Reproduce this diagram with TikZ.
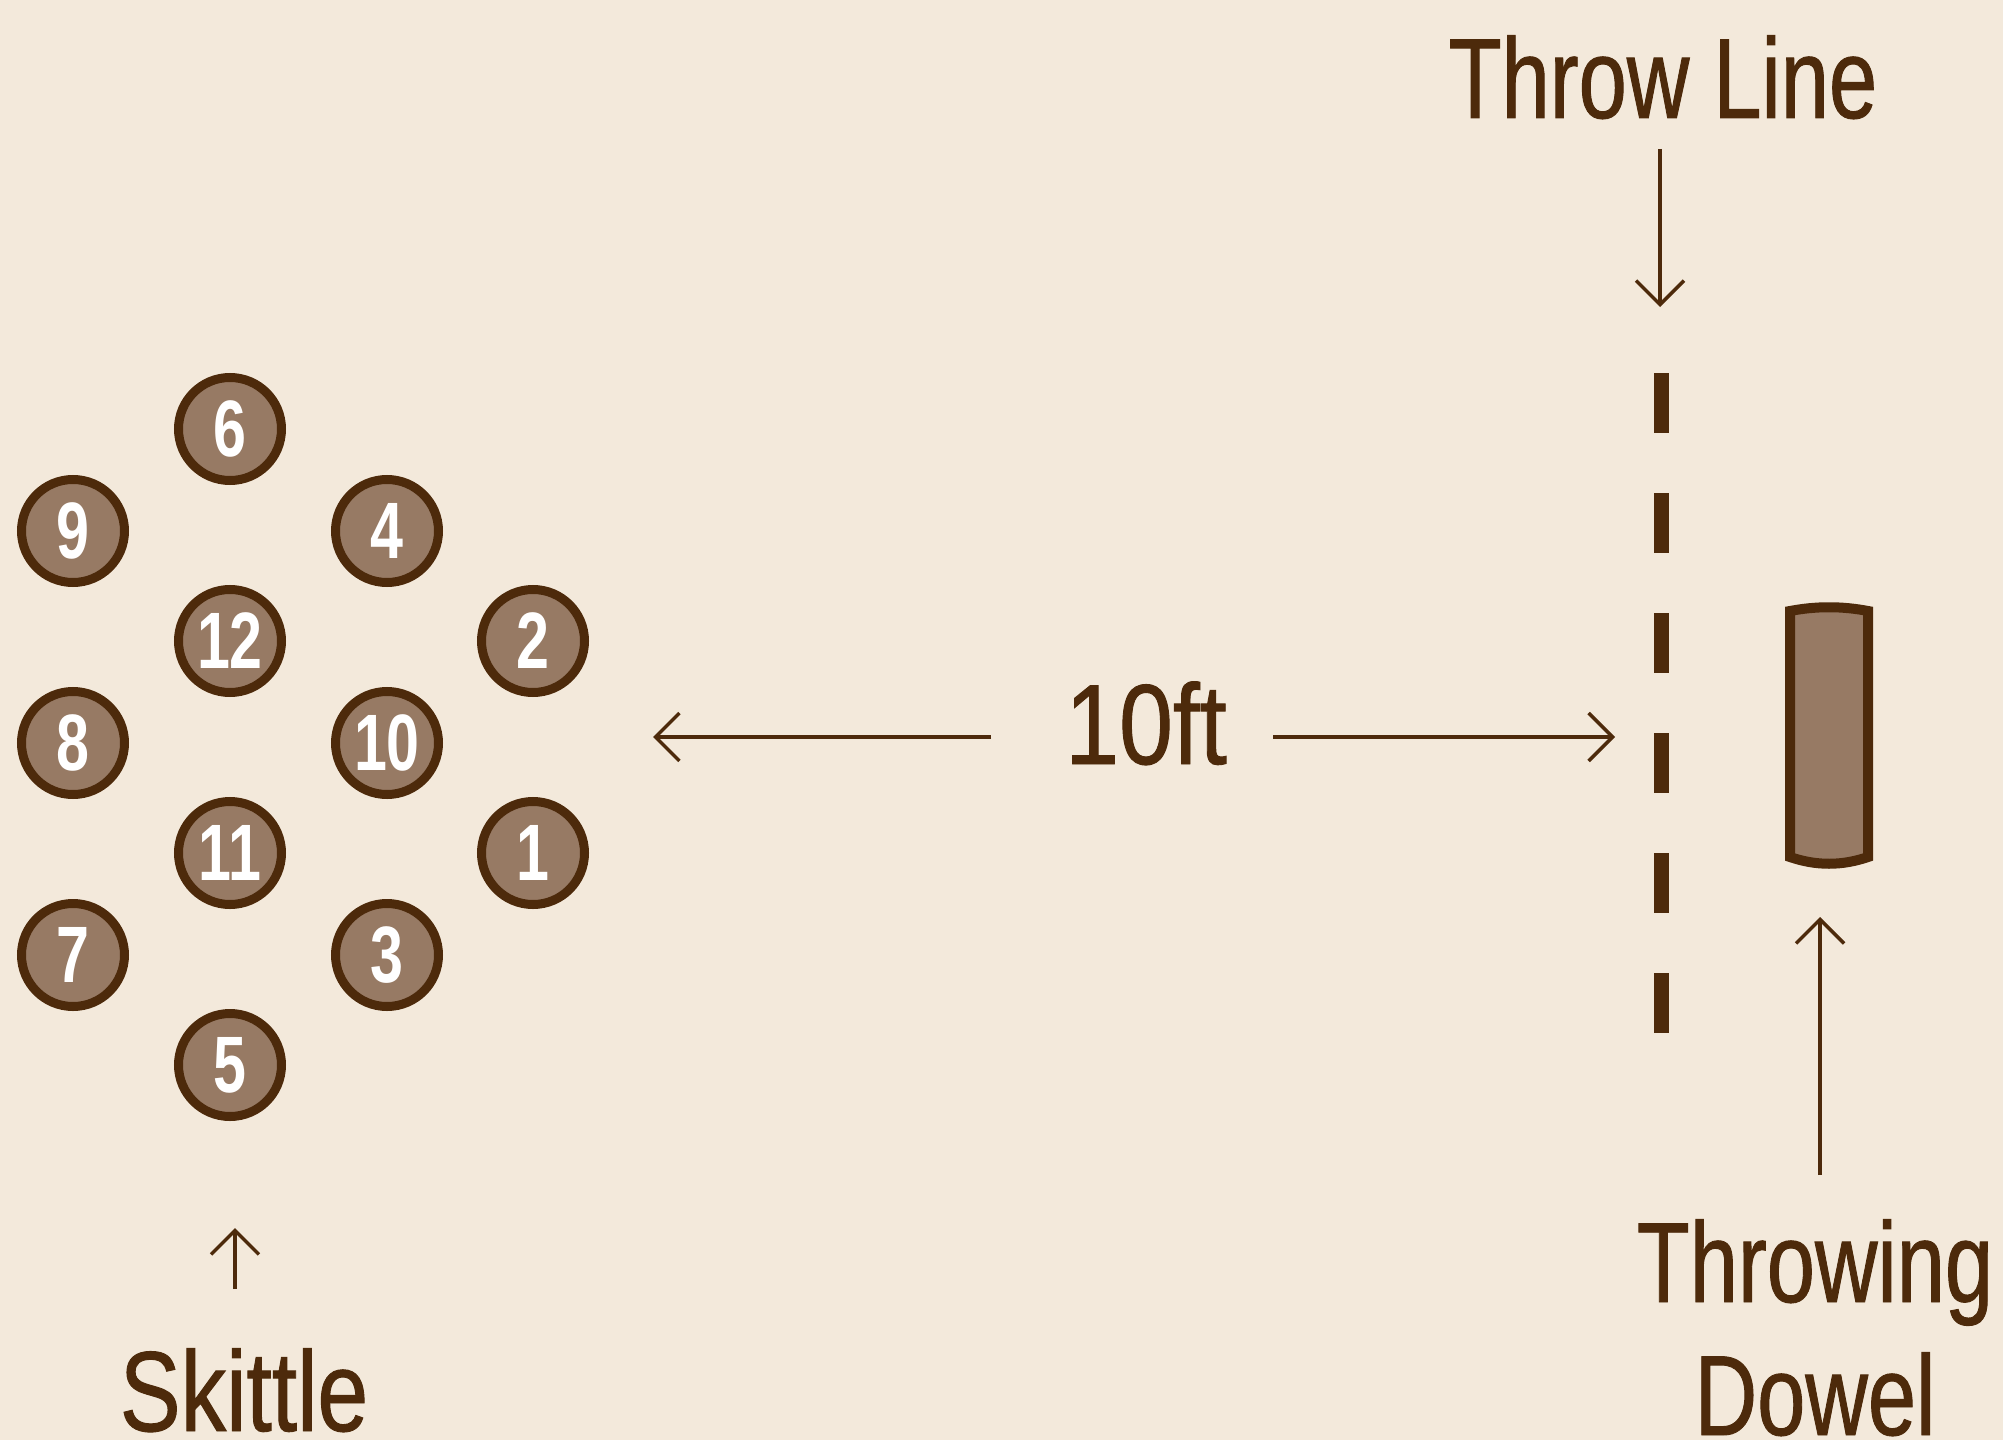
\documentclass[tikz,border=0pt]{standalone}
\usepackage{fontspec}
\usetikzlibrary{arrows.meta}
\newfontfamily\lblfont{Liberation Sans}[FakeStretch=0.76,FakeBold=0.8]
\newfontfamily\skitfont{Liberation Sans}[FakeStretch=0.8,FakeBold=0.8]
\newfontfamily\distfont{Liberation Sans}[FakeStretch=0.85,FakeBold=0.8]
\newfontfamily\numfont{Liberation Sans}[FakeStretch=0.74]
\definecolor{bg}{HTML}{F3E9DB}
\definecolor{ink}{HTML}{4D2A0B}
\definecolor{wood}{HTML}{977A64}
\begin{document}
\begin{tikzpicture}[x=1bp,y=-1bp,
  skittle/.style={circle, draw=ink, fill=wood, line width=9bp, minimum size=103bp,
    inner sep=0pt, text=white, font=\numfont\bfseries\fontsize{80bp}{80bp}\selectfont},
  lbl/.style={text=ink, inner sep=0pt, anchor=base, align=center,
    font=\lblfont\fontsize{114bp}{133bp}\selectfont},
  pointer/.style={draw=ink, line width=3.5bp, -{Straight Barb[length=24bp,width=48bp]}},
]
\fill[bg] (0,0) rectangle (2003,1440);
\useasboundingbox (0,0) rectangle (2003,1440);

% skittles
\node[skittle] (s6)  at (230,429)  {6};
\node[skittle] (s9)  at (73,531)   {9};
\node[skittle] (s4)  at (387,531)  {4};
\node[skittle] (s12) at (230,641)  {12};
\node[skittle] (s2)  at (533,641)  {2};
\node[skittle] (s8)  at (73,743)   {8};
\node[skittle] (s10) at (387,743)  {10};
\node[skittle] (s11) at (230,853)  {11};
\node[skittle] (s1)  at (533,853)  {1};
\node[skittle] (s7)  at (73,955)   {7};
\node[skittle] (s3)  at (387,955)  {3};
\node[skittle] (s5)  at (230,1065) {5};

% throw line
\coordinate (linetop) at (1661,373);
\coordinate (linebot) at (1661,1033);
\draw[ink, line width=15bp, dash pattern=on 60bp off 60bp] (linetop) -- (linebot);

% dowel
\filldraw[draw=ink, fill=wood, line width=10bp, line join=miter]
  (1790,611) -- (1790,857) .. controls (1816,866) and (1842,866) .. (1868,857)
  -- (1868,611) .. controls (1842,606) and (1816,606) .. (1790,611) -- cycle;

% labels
\node[lbl] (throwlbl) at (1663,118) {Throw Line};
\node[lbl] (dowellbl) at (1815,1435) {Throwing\\Dowel};
\node[lbl, font=\skitfont\fontsize{114bp}{133bp}\selectfont] (skitlbl) at (244,1431) {Skittle};
\node[lbl, font=\distfont\fontsize{114bp}{133bp}\selectfont] (dist) at (1146,764) {10ft};

% pointers
\coordinate (tla) at (1660,149);
\coordinate (tlb) at (1660,307);
\draw[pointer] (tla) -- (tlb);

\coordinate (dwa) at (1820,1175);
\coordinate (dwb) at (1820,917);
\draw[pointer] (dwa) -- (dwb);

\coordinate (ska) at (235,1289);
\coordinate (skb) at (235,1228);
\draw[pointer] (ska) -- (skb);

\coordinate (dla) at (991,737);
\coordinate (dlb) at (653,737);
\coordinate (dra) at (1273,737);
\coordinate (drb) at (1615,737);
\draw[pointer] (dla) -- (dlb);
\draw[pointer] (dra) -- (drb);
\end{tikzpicture}
\end{document}
